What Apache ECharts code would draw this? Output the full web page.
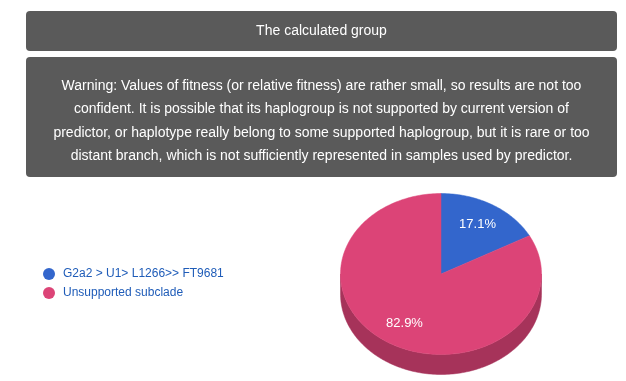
<!DOCTYPE html>
<html>
<head>
<meta charset="utf-8">
<script src="https://cdn.jsdelivr.net/npm/echarts@6/dist/echarts.min.js"></script>
<style>
html,body{margin:0;padding:0;background:#fff;}
#chart{width:626px;height:381px;}
</style>
</head>
<body>
<div id="chart"></div>
<script>
const titleText = 'The calculated group';
const warningLines = [
  'Warning: Values of fitness (or relative fitness) are rather small, so results are not too',
  'confident. It is possible that its haplogroup is not supported by current version of',
  'predictor, or haplotype really belong to some supported haplogroup, but it is rare or too',
  'distant branch, which is not sufficiently represented in samples used by predictor.'
];
const categories = ['G2a2 > U1> L1266>> FT9681', 'Unsupported subclade'];
const values = [17.1, 82.9];
const colors = ['#3366cc', '#dc4477'];
const sideColors = ['#264d99', '#a6335a'];

const FONT = 'Arial, "Liberation Sans", sans-serif';
const pie = {cx: 441, cy: 274, rx: 100.5, ry: 80.5, depth: 20, labelR: 0.71};
const total = values.reduce((a, b) => a + b, 0);
const starts = values.map((v, i) => values.slice(0, i).reduce((a, b) => a + b, 0));

function pt(a, dy) {
  return [pie.cx + pie.rx * Math.sin(a), pie.cy - pie.ry * Math.cos(a) + (dy || 0)];
}
function arc(a0, a1, dy) {
  const n = Math.max(2, Math.ceil(Math.abs(a1 - a0) / 0.02));
  const out = [];
  for (let k = 0; k <= n; k++) out.push(pt(a0 + (a1 - a0) * k / n, dy));
  return out;
}

function makeRender(i) {
  return function (params, api) {
    const v = api.value(0);
    const a0 = starts[i] / total * Math.PI * 2;
    const a1 = (starts[i] + v) / total * Math.PI * 2;
    const children = [];
    const s0 = Math.max(a0, Math.PI / 2), s1 = Math.min(a1, Math.PI * 1.5);
    if (s1 > s0) {
      const top = arc(s0, s1, 0);
      const bot = arc(s1, s0, pie.depth);
      children.push({
        type: 'polygon', shape: {points: top.concat(bot)},
        style: {fill: sideColors[i], stroke: sideColors[i], lineWidth: 0.5}
      });
    }
    const face = [[pie.cx, pie.cy]].concat(arc(a0, a1, 0));
    children.push({
      type: 'polygon', shape: {points: face},
      style: {fill: colors[i], stroke: colors[i], lineWidth: 0.5}
    });
    const am = (a0 + a1) / 2;
    const lx = pie.cx + pie.rx * pie.labelR * Math.sin(am);
    const ly = pie.cy - pie.ry * pie.labelR * Math.cos(am);
    children.push({
      type: 'text', x: lx, y: ly,
      style: {text: (v / total * 100).toFixed(1) + '%', fill: '#fff', font: '13px ' + FONT,
        align: 'center', verticalAlign: 'middle'}
    });
    return {type: 'group', children: children};
  };
}

const chart = echarts.init(document.getElementById('chart'), null, {renderer: 'canvas'});
chart.setOption({
  animation: false,
  backgroundColor: '#fff',
  legend: {
    orient: 'vertical', left: 43, top: 268, padding: 0,
    icon: 'circle', itemWidth: 12, itemHeight: 12, itemGap: 7,
    data: categories,
    textStyle: {color: '#1f5cb8', fontSize: 12, fontFamily: FONT, padding: [0, 0, 0, 3]}
  },
  graphic: [
    {type: 'rect', shape: {x: 26, y: 11, width: 591, height: 40, r: 4}, style: {fill: '#5a5a5a'}},
    {type: 'text', x: 321.5, y: 31, style: {text: titleText, fill: '#fff', font: '14px ' + FONT, align: 'center', verticalAlign: 'middle'}},
    {type: 'rect', shape: {x: 26, y: 57, width: 591, height: 120, r: 4}, style: {fill: '#5a5a5a'}},
    {type: 'text', x: 321.5, y: 121, style: {text: warningLines.join('\n'), fill: '#fff', font: '14px ' + FONT, lineHeight: 23.3, align: 'center', verticalAlign: 'middle'}}
  ],
  series: categories.map((name, i) => ({
    type: 'custom', name: name, coordinateSystem: 'none',
    itemStyle: {color: colors[i]},
    renderItem: makeRender(i),
    data: [values[i]]
  }))
});
</script>
</body>
</html>
